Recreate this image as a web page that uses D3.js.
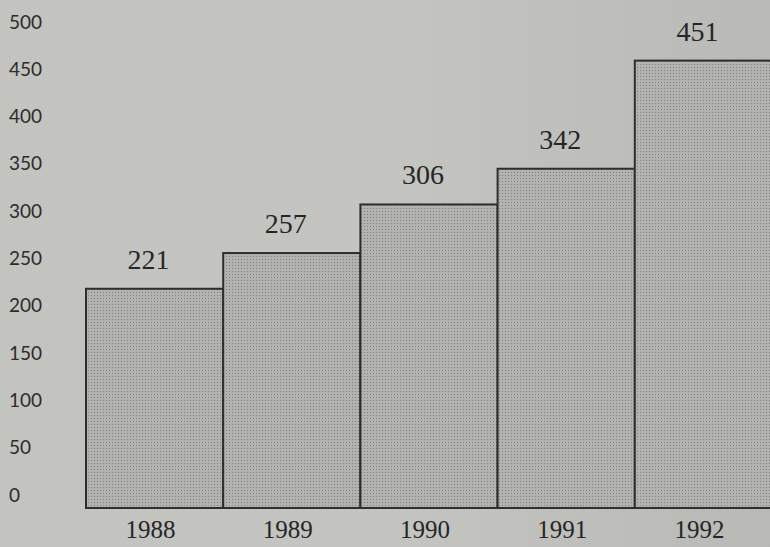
<!DOCTYPE html>
<html>
<head>
<meta charset="utf-8">
<title>Bar chart 1988-1992</title>
<script src="https://d3js.org/d3.v7.min.js"></script>
<style>
  body { margin: 0; background: #bfbfbb; }
  svg { display: block; }
</style>
</head>
<body>
<div id="chart"></div>
<script>
// data
var years = ["1988", "1989", "1990", "1991", "1992"];
var values = [221, 257, 306, 342, 451];
var tickValues = [0, 50, 100, 150, 200, 250, 300, 350, 400, 450, 500];

var width = 770, height = 547;

var svg = d3.select("#chart").append("svg")
    .attr("width", width)
    .attr("height", height);

var defs = svg.append("defs");

// paper tone, a bit lighter in the middle
var bg = defs.append("linearGradient").attr("id", "paper")
    .attr("x1", "0").attr("x2", "1").attr("y1", "0").attr("y2", "0");
bg.append("stop").attr("offset", "0").attr("stop-color", "#c3c3bf");
bg.append("stop").attr("offset", "0.5").attr("stop-color", "#c4c4c0");
bg.append("stop").attr("offset", "1").attr("stop-color", "#b9b9b5");

// halftone dots for the bars
var pat = defs.append("pattern").attr("id", "dots")
    .attr("width", 3).attr("height", 3)
    .attr("patternUnits", "userSpaceOnUse");
pat.append("rect").attr("width", 3).attr("height", 3).attr("fill", "#b3b3b1");
pat.append("rect").attr("x", 1).attr("y", 1).attr("width", 1).attr("height", 1).attr("fill", "#7e7e7e");

svg.append("rect")
    .attr("width", width).attr("height", height)
    .attr("fill", "url(#paper)");

var x = d3.scaleBand()
    .domain(years)
    .range([86, 772])
    .padding(0);

// bars
var y = d3.scaleLinear()
    .domain([0, 500])
    .range([508, 12]);

// the printed tick labels sit on a slightly different scale
var yLabel = d3.scaleLinear()
    .domain([0, 500])
    .range([495, 22]);

var data = years.map(function(d, i) { return {year: d, value: values[i]}; });

svg.selectAll(".bar")
    .data(data)
  .enter().append("rect")
    .attr("class", "bar")
    .attr("x", function(d) { return x(d.year); })
    .attr("y", function(d) { return y(d.value); })
    .attr("width", x.bandwidth())
    .attr("height", function(d) { return y(0) - y(d.value); })
    .attr("fill", "url(#dots)")
    .attr("stroke", "#2e2e2e")
    .attr("stroke-width", 2);

// value labels
svg.selectAll(".val")
    .data(data)
  .enter().append("text")
    .attr("class", "val")
    .attr("x", function(d) { return x(d.year) + x.bandwidth() / 2 - 6; })
    .attr("y", function(d) { return y(d.value) - 20; })
    .attr("text-anchor", "middle")
    .attr("font-family", "'Liberation Serif', 'DejaVu Serif', serif")
    .attr("font-size", 28)
    .attr("fill", "#262626")
    .text(function(d) { return d.value; });

// year labels
svg.selectAll(".year")
    .data(years)
  .enter().append("text")
    .attr("class", "year")
    .attr("x", function(d) { return x(d) + x.bandwidth() / 2 - 4; })
    .attr("y", 538)
    .attr("text-anchor", "middle")
    .attr("font-family", "'Liberation Serif', 'DejaVu Serif', serif")
    .attr("font-size", 25)
    .attr("fill", "#262626")
    .text(function(d) { return d; });

// left axis labels, no line
var axis = svg.append("g")
    .attr("transform", "translate(9,0)")
    .call(d3.axisRight(yLabel).tickValues(tickValues).tickSize(0).tickPadding(0));
axis.select(".domain").remove();
axis.selectAll("text")
    .attr("font-family", "Lato, 'Open Sans', sans-serif")
    .attr("font-size", 19)
    .attr("fill", "#2c2c2c");
</script>
</body>
</html>
